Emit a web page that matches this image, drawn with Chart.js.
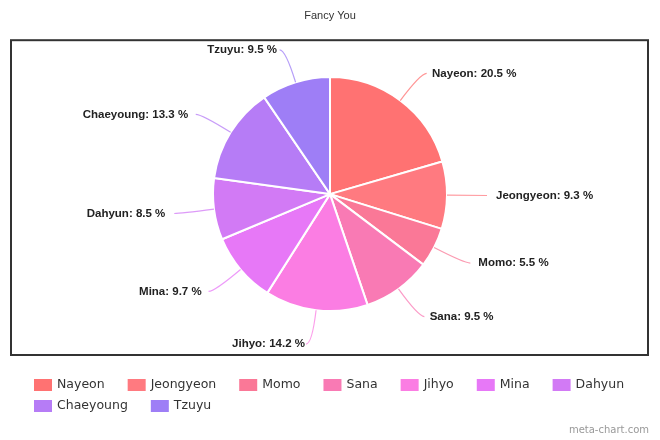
<!DOCTYPE html>
<html>
<head>
<meta charset="utf-8">
<script src="https://cdn.jsdelivr.net/npm/chart.js@4/dist/chart.umd.min.js"></script>
<style>
  html, body { margin: 0; padding: 0; background: #fff; }
  canvas { display: block; background: #fff; }
</style>
</head>
<body>
<canvas id="chart" width="660" height="440"></canvas>
<script>
const members = ['Nayeon', 'Jeongyeon', 'Momo', 'Sana', 'Jihyo', 'Mina', 'Dahyun', 'Chaeyoung', 'Tzuyu'];
const shares = [20.5, 9.3, 5.5, 9.5, 14.2, 9.7, 8.5, 13.3, 9.5];
const colors = ['#ff7272', '#ff7a80', '#fa7897', '#f97ab4', '#fb7de3', '#e778f7', '#d27af5', '#b67cf6', '#9e7ef6'];

const ctx = document.getElementById('chart').getContext('2d');

// frame around the pie, like the meta-chart box
const framePlugin = {
    id: 'frame',
    beforeDraw(chart) {
        const { ctx, chartArea } = chart;
        ctx.save();
        ctx.strokeStyle = '#333';
        ctx.lineWidth = 2;
        ctx.strokeRect(chartArea.left + 11, chartArea.top, chartArea.right - chartArea.left - 23, chartArea.bottom - chartArea.top + 7);
        ctx.restore();
    }
};

// outside labels with curved leader lines
const labelPlugin = {
    id: 'outLabels',
    afterDatasetsDraw(chart) {
        const { ctx } = chart;
        const meta = chart.getDatasetMeta(0);
        ctx.save();
        ctx.font = 'bold 11.5px "Liberation Sans", Arial, sans-serif';
        ctx.textBaseline = 'middle';
        meta.data.forEach((arc, i) => {
            const p = arc.getProps(['x', 'y', 'startAngle', 'endAngle', 'outerRadius'], true);
            const mid = (p.startAngle + p.endAngle) / 2;
            const cos = Math.cos(mid), sin = Math.sin(mid);
            const dir = cos >= 0 ? 1 : -1;
            const x0 = p.x + cos * p.outerRadius, y0 = p.y + sin * p.outerRadius;
            const R = p.outerRadius + 34;
            const ex = p.x + cos * R, ey = p.y + sin * R;
            ctx.strokeStyle = colors[i];
            ctx.globalAlpha = 0.75;
            ctx.lineWidth = 1.2;
            ctx.beginPath();
            ctx.moveTo(x0, y0);
            ctx.quadraticCurveTo(ex, ey, ex + dir * 6, ey);
            ctx.stroke();
            ctx.globalAlpha = 1;
            ctx.fillStyle = '#222';
            ctx.textAlign = dir > 0 ? 'left' : 'right';
            // labels near the vertical sit closer to the leader end
            const gap = 6 + 9 * Math.abs(cos);
            ctx.fillText(members[i] + ': ' + shares[i] + ' %', ex + dir * gap, ey);
        });
        ctx.restore();
    }
};

// legend rows under the frame + watermark
const legendPlugin = {
    id: 'rowLegend',
    afterDraw(chart) {
        const { ctx } = chart;
        ctx.save();
        ctx.font = '12.5px "DejaVu Sans", sans-serif';
        ctx.textBaseline = 'middle';
        ctx.textAlign = 'left';
        let x = 34, y = 385;
        members.forEach((name, i) => {
            const w = 18 + 5 + ctx.measureText(name).width;
            if (x > 34 && x + w > 640) { x = 34; y += 21; }
            ctx.fillStyle = colors[i];
            ctx.fillRect(x, y - 6, 18, 12);
            ctx.fillStyle = '#333';
            ctx.fillText(name, x + 23, y);
            x += w + 23;
        });
        ctx.font = '10px "DejaVu Sans", sans-serif';
        ctx.fillStyle = '#999';
        ctx.textAlign = 'right';
        ctx.fillText('meta-chart.com', 649, 430);
        ctx.restore();
    }
};

const chart = new Chart(ctx, {
    type: 'pie',
    data: {
        labels: members,
        datasets: [{
            data: shares,
            backgroundColor: colors,
            borderColor: '#fff',
            borderWidth: 2,
            radius: 117,
        }],
    },
    options: {
        responsive: false,
        animation: false,
        layout: { padding: { top: 0, bottom: 92, left: 0, right: 0 } },
        plugins: {
            legend: { display: false },
            tooltip: { enabled: false },
            title: {
                display: true,
                text: 'Fancy You',
                color: '#333',
                font: { family: '"Liberation Sans", Arial, sans-serif', size: 11, weight: 'normal' },
                padding: { top: 9, bottom: 18 },
            },
        },
    },
    plugins: [framePlugin, labelPlugin, legendPlugin],
});
</script>
</body>
</html>
